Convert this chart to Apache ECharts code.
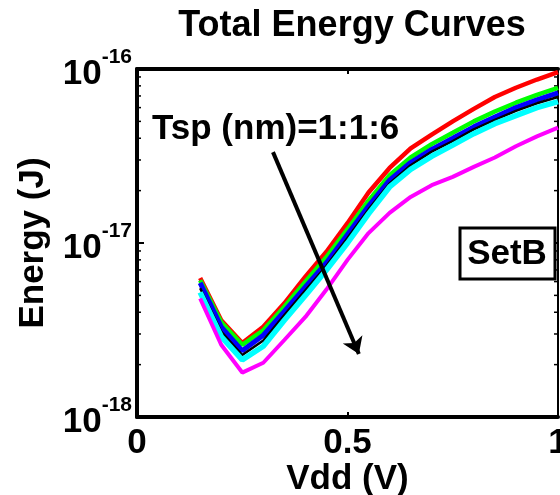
<!DOCTYPE html>
<html>
<head>
<meta charset="utf-8">
<script src="https://cdn.jsdelivr.net/npm/echarts@6/dist/echarts.min.js"></script>
<style>
  html, body { margin: 0; padding: 0; background: #fff; }
  #chart { width: 560px; height: 495px; }
</style>
</head>
<body>
<div id="chart"></div>
<script>
// Vdd sweep (V)
const vdd = [0.15, 0.2, 0.25, 0.3, 0.35, 0.4, 0.45, 0.5, 0.55, 0.6, 0.65, 0.7, 0.75, 0.8, 0.85, 0.9, 0.95, 1.0];

// total energy (J) for Tsp = 1..6 nm
const tsp1 = [6.3e-18, 3.6e-18, 2.66e-18, 3.3e-18, 4.5e-18, 6.4e-18, 8.9e-18, 1.3e-17, 1.95e-17, 2.7e-17, 3.5e-17, 4.2e-17, 5.0e-17, 5.9e-17, 6.9e-17, 7.8e-17, 8.7e-17, 9.6e-17];
const tsp2 = [6.1e-18, 3.5e-18, 2.6e-18, 3.15e-18, 4.3e-18, 6.0e-18, 8.3e-18, 1.2e-17, 1.75e-17, 2.45e-17, 3.1e-17, 3.7e-17, 4.3e-17, 5.0e-17, 5.7e-17, 6.4e-17, 7.1e-17, 7.8e-17];
const tsp3 = [5.9e-18, 3.3e-18, 2.4e-18, 2.95e-18, 4.05e-18, 5.6e-18, 7.7e-18, 1.12e-17, 1.63e-17, 2.3e-17, 2.9e-17, 3.45e-17, 4.0e-17, 4.65e-17, 5.3e-17, 6.0e-17, 6.65e-17, 7.3e-17];
const tsp4 = [5.5e-18, 3.1e-18, 2.27e-18, 2.75e-18, 3.85e-18, 5.35e-18, 7.4e-18, 1.07e-17, 1.56e-17, 2.2e-17, 2.8e-17, 3.35e-17, 3.85e-17, 4.5e-17, 5.1e-17, 5.75e-17, 6.35e-17, 6.9e-17];
const tsp5 = [5.2e-18, 2.9e-18, 2.13e-18, 2.55e-18, 3.6e-18, 5.0e-18, 7.0e-18, 1.0e-17, 1.47e-17, 2.1e-17, 2.65e-17, 3.15e-17, 3.65e-17, 4.25e-17, 4.85e-17, 5.4e-17, 6.0e-17, 6.5e-17];
const tsp6 = [4.8e-18, 2.6e-18, 1.8e-18, 2.05e-18, 2.77e-18, 3.76e-18, 5.4e-18, 8.0e-18, 1.14e-17, 1.49e-17, 1.84e-17, 2.15e-17, 2.4e-17, 2.74e-17, 3.1e-17, 3.6e-17, 4.1e-17, 4.6e-17];

const yMinorTicks = [2e-18, 3e-18, 4e-18, 5e-18, 6e-18, 7e-18, 8e-18, 9e-18,
                     2e-17, 3e-17, 4e-17, 5e-17, 6e-17, 7e-17, 8e-17, 9e-17];

const FONT = "'Liberation Sans', Arial, sans-serif";
const colors = ["#ff0000", "#00ff00", "#0000ff", "#000000", "#00ffff", "#ff00ff"];
const widths = [4.5, 4.5, 5, 2.5, 5.5, 4];
const allSeries = [tsp1, tsp2, tsp3, tsp4, tsp5, tsp6];

const chart = echarts.init(document.getElementById("chart"));

const boldText = { color: "#000", fontFamily: FONT, fontWeight: "bold" };

const series = allSeries.map((vals, i) => ({
  name: "Tsp=" + (i + 1),
  type: "line",
  data: vdd.map((v, j) => [v, vals[j]]),
  showSymbol: false,
  lineStyle: { color: colors[i], width: widths[i] },
  itemStyle: { color: colors[i] },
}));

// arrow from label to lower curves
series[5].markLine = {
  silent: true,
  symbol: ["none", "arrow"],
  symbolSize: 16,
  label: { show: false },
  lineStyle: { color: "#000", width: 4, type: "solid" },
  data: [[{ coord: [0.323, 3.33e-17] }, { coord: [0.527, 2.3e-18] }]],
};

const option = {
  animation: false,
  title: {
    text: "Total Energy Curves",
    left: 347,
    top: 3,
    textAlign: "center",
    textStyle: Object.assign({ fontSize: 36 }, boldText),
  },
  grid: { left: 137, right: 2, top: 69, bottom: 78, outerBoundsMode: "none", containLabel: false },
  xAxis: [
    {
      type: "value",
      min: 0,
      max: 1,
      interval: 0.5,
      position: "bottom",
      axisLine: { onZero: false, lineStyle: { color: "#000", width: 4 } },
      axisTick: { inside: true, length: 5, lineStyle: { width: 2, color: "#000" } },
      splitLine: { show: false },
      axisLabel: Object.assign({
        fontSize: 35,
        margin: 9,
        showMaxLabel: true,
        hideOverlap: false,
        formatter: (v) => String(v),
      }, boldText),
      name: "Vdd (V)",
      nameLocation: "middle",
      nameGap: 45,
      nameMoveOverlap: false,
      nameTextStyle: Object.assign({ fontSize: 35 }, boldText),
    },
    {
      type: "value",
      min: 0,
      max: 1,
      interval: 0.5,
      position: "top",
      axisLine: { onZero: false, lineStyle: { color: "#000", width: 4 } },
      axisTick: { inside: true, length: 5, lineStyle: { width: 2, color: "#000" } },
      splitLine: { show: false },
      axisLabel: { show: false },
    },
  ],
  yAxis: [
    {
      type: "log",
      logBase: 10,
      min: 1e-18,
      max: 1e-16,
      position: "left",
      axisLine: { onZero: false, lineStyle: { color: "#000", width: 4 } },
      axisTick: { inside: true, length: 7, lineStyle: { width: 2, color: "#000" } },
      splitLine: { show: false },
      axisLabel: {
        margin: 5,
        formatter: (v) => "{b|10}{e|" + Math.round(Math.log10(v)) + "}",
        rich: {
          b: Object.assign({ fontSize: 35, verticalAlign: "bottom", lineHeight: 45 }, boldText),
          e: Object.assign({ fontSize: 21, verticalAlign: "top", lineHeight: 45 }, boldText),
        },
      },
      name: "Energy (J)",
      nameLocation: "middle",
      nameGap: 86,
      nameMoveOverlap: false,
      nameTextStyle: Object.assign({ fontSize: 35 }, boldText),
    },
    {
      type: "log",
      logBase: 10,
      min: 1e-18,
      max: 1e-16,
      position: "right",
      axisLine: { onZero: false, lineStyle: { color: "#000", width: 2 } },
      axisTick: { inside: true, length: 7, lineStyle: { width: 2, color: "#000" } },
      splitLine: { show: false },
      axisLabel: { show: false },
    },
  ],
  series: series,
};

chart.setOption(option);

// log minor ticks on both y axes, placed through the axis scale
const minorMarks = [];
yMinorTicks.forEach((v) => {
  const pl = chart.convertToPixel({ xAxisIndex: 0, yAxisIndex: 0 }, [0, v]);
  const pr = chart.convertToPixel({ xAxisIndex: 0, yAxisIndex: 0 }, [1, v]);
  minorMarks.push({
    type: "line",
    shape: { x1: pl[0], y1: pl[1], x2: pl[0] + 4, y2: pl[1] },
    style: { stroke: "#000", lineWidth: 1.5 },
    silent: true,
  });
  minorMarks.push({
    type: "line",
    shape: { x1: pr[0], y1: pr[1], x2: pr[0] - 4, y2: pr[1] },
    style: { stroke: "#000", lineWidth: 1.5 },
    silent: true,
  });
});

chart.setOption({
  graphic: minorMarks.concat([
    {
      type: "text",
      left: 152,
      top: 112,
      style: { text: "Tsp (nm)=1:1:6", fontSize: 35, fill: "#000", fontFamily: FONT, fontWeight: "bold" },
      z: 100,
    },
    {
      type: "rect",
      shape: { x: 460, y: 228, width: 95, height: 51 },
      style: { fill: "#fff", stroke: "#000", lineWidth: 3 },
      z: 100,
    },
    {
      type: "text",
      x: 507,
      y: 254,
      style: { text: "SetB", fontSize: 35, fill: "#000", fontFamily: FONT, fontWeight: "bold", align: "center", verticalAlign: "middle" },
      z: 101,
    },
  ]),
});
</script>
</body>
</html>
